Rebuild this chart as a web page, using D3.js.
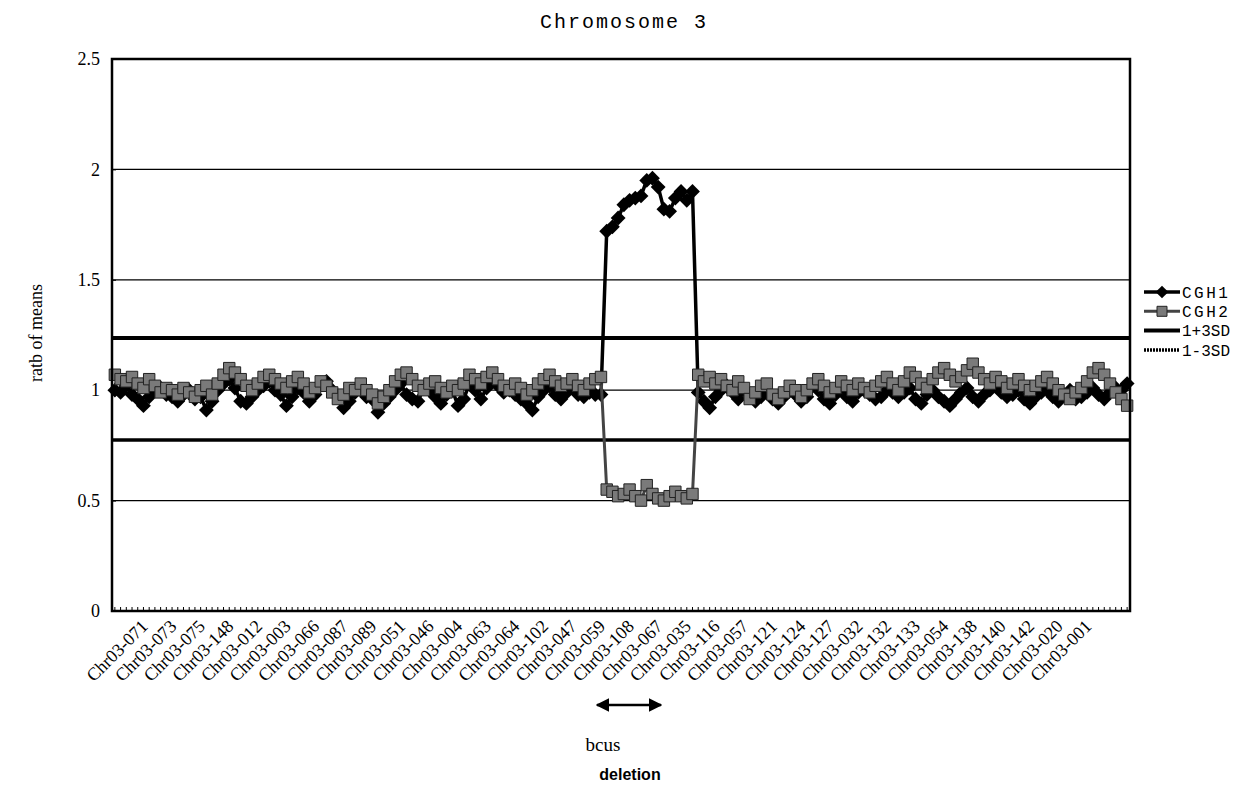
<!DOCTYPE html>
<html>
<head>
<meta charset="utf-8">
<script src="https://cdn.jsdelivr.net/npm/d3@7"></script>
<style>
  body { margin: 0; background: #fff; }
</style>
</head>
<body>
<div id="chart"></div>
<script>
// ratio of means per locus
const cgh1 = [
  1.00,0.99,1.02,0.98,0.96,0.93,0.97,1.00,1.01,0.98,
  0.97,0.95,0.98,1.00,0.96,0.97,0.91,0.95,1.00,1.03,
  1.05,1.01,0.95,0.94,0.97,1.00,1.02,1.04,1.00,0.98,
  0.93,0.97,1.01,0.99,0.95,0.98,1.03,1.04,1.00,0.97,
  0.92,0.95,0.99,1.01,0.97,0.96,0.90,0.94,0.97,1.00,
  1.03,0.98,0.96,0.95,1.01,1.00,0.97,0.94,0.98,1.00,
  0.93,0.96,1.03,1.00,0.96,1.01,1.04,1.02,0.99,1.00,
  0.98,0.96,0.94,0.91,0.97,1.00,1.02,0.98,0.96,0.99,
  1.01,0.98,0.97,0.99,0.98,0.98,
  1.72,1.74,1.78,1.84,1.86,1.87,1.88,1.95,1.96,1.92,1.82,1.81,1.87,1.90,1.86,1.90,
  0.99,0.95,0.92,0.97,1.00,1.02,0.99,0.96,1.00,0.98,
  0.95,0.97,0.99,0.96,0.94,0.97,1.00,0.98,0.95,0.97,
  1.02,1.00,0.96,0.94,0.98,1.01,0.97,0.95,0.99,1.00,
  0.98,0.96,0.97,1.00,0.99,0.97,0.99,1.01,0.96,0.94,
  0.98,1.00,0.97,0.95,0.93,0.96,0.99,1.01,0.97,0.95,
  0.98,1.00,1.02,0.99,0.97,0.98,1.00,0.96,0.94,0.97,
  0.99,1.00,0.97,0.95,0.98,1.00,0.96,0.97,0.99,1.01,
  0.98,0.96,0.99,1.01,1.00,1.03
];
const cgh2 = [
  1.07,1.05,1.04,1.06,1.03,1.01,1.05,1.02,0.99,1.01,
  1.00,0.98,1.01,0.99,0.97,1.00,1.02,0.98,1.03,1.07,
  1.10,1.08,1.05,1.02,1.00,1.03,1.06,1.07,1.05,1.03,
  1.01,1.04,1.06,1.03,0.99,1.01,1.04,1.02,0.99,0.96,
  0.98,1.01,1.00,1.03,1.00,0.98,0.94,0.97,1.00,1.04,
  1.07,1.08,1.05,1.02,1.00,1.03,1.04,1.01,0.99,1.02,
  1.00,1.03,1.07,1.05,1.03,1.06,1.08,1.05,1.02,1.00,
  1.03,1.01,0.98,1.00,1.03,1.05,1.07,1.04,1.02,1.03,
  1.05,1.02,1.00,1.03,1.05,1.06,
  0.55,0.54,0.52,0.53,0.55,0.52,0.50,0.57,0.53,0.51,0.50,0.52,0.54,0.52,0.51,0.53,
  1.07,1.04,1.06,1.03,1.05,1.02,1.00,1.04,1.01,0.96,
  0.99,1.02,1.03,0.98,0.96,0.99,1.02,1.00,0.97,1.00,
  1.03,1.05,1.02,0.99,1.01,1.04,1.02,1.00,1.03,1.01,
  0.99,1.02,1.04,1.06,1.03,1.00,1.04,1.08,1.06,1.03,
  1.01,1.05,1.08,1.10,1.07,1.04,1.06,1.09,1.12,1.08,
  1.05,1.03,1.06,1.04,1.01,1.03,1.05,1.02,1.00,1.02,
  1.04,1.06,1.03,1.00,0.98,0.96,0.99,1.01,1.04,1.08,
  1.10,1.07,1.03,0.99,0.96,0.93
];
const plus3SD = 1.236;
const minus3SD = 0.774;

const tickLabels = [
  "Chr03-071","Chr03-073","Chr03-075","Chr03-148","Chr03-012","Chr03-003",
  "Chr03-066","Chr03-087","Chr03-089","Chr03-051","Chr03-046","Chr03-004",
  "Chr03-063","Chr03-064","Chr03-102","Chr03-047","Chr03-059","Chr03-108",
  "Chr03-067","Chr03-035","Chr03-116","Chr03-057","Chr03-121","Chr03-124",
  "Chr03-127","Chr03-032","Chr03-132","Chr03-133","Chr03-054","Chr03-138",
  "Chr03-140","Chr03-142","Chr03-020","Chr03-001"
];
const yTicks = [0, 0.5, 1, 1.5, 2, 2.5];
const labelFirst = 5, labelStep = 5;

const W = 1238, H = 804;
const m = { left: 112, right: 1130, top: 59, bottom: 611 };

const svg = d3.select("#chart").append("svg")
    .attr("width", W)
    .attr("height", H);

const idx = d3.range(cgh1.length);
const x = d3.scaleBand()
    .domain(idx)
    .range([m.left, m.right]);
const cx = i => x(i) + x.bandwidth() / 2;

const y = d3.scaleLinear()
    .domain([0, 2.5])
    .range([m.bottom, m.top]);

// gridlines
svg.append("g")
    .selectAll("line")
    .data(yTicks.filter(d => d > 0 && d < 2.5))
    .join("line")
    .attr("x1", m.left).attr("x2", m.right)
    .attr("y1", d => y(d)).attr("y2", d => y(d))
    .attr("stroke", "#000")
    .attr("stroke-width", 1.3);

// y axis
const yAxis = svg.append("g")
    .attr("transform", `translate(${m.left},0)`)
    .call(d3.axisLeft(y).tickValues(yTicks).tickFormat(d3.format("")).tickSize(-4).tickPadding(12));
yAxis.select(".domain").remove();
yAxis.selectAll("line").attr("stroke", "#000");
yAxis.selectAll("text")
    .style("font-family", "'Liberation Serif', serif")
    .style("font-size", "18px")
    .attr("fill", "#000");

// x axis with a small tick per locus
const xAxis = svg.append("g")
    .attr("transform", `translate(0,${m.bottom})`)
    .call(d3.axisBottom(x).tickValues(idx).tickSize(-4).tickFormat(""));
xAxis.select(".domain").remove();
xAxis.selectAll("line").attr("stroke", "#000").attr("stroke-width", 1);

svg.append("g")
    .selectAll("text")
    .data(tickLabels)
    .join("text")
    .attr("transform", (d, j) => `translate(${cx(labelFirst + j * labelStep) + 1},${m.bottom + 12}) rotate(-45)`)
    .attr("text-anchor", "end")
    .attr("dy", "0.35em")
    .style("font-family", "'Liberation Serif', serif")
    .style("font-size", "18px")
    .text(d => d);

// threshold lines
svg.append("line")
    .attr("x1", m.left).attr("x2", m.right)
    .attr("y1", y(plus3SD)).attr("y2", y(plus3SD))
    .attr("stroke", "#000").attr("stroke-width", 4);
svg.append("line")
    .attr("x1", m.left).attr("x2", m.right)
    .attr("y1", y(minus3SD)).attr("y2", y(minus3SD))
    .attr("stroke", "#000").attr("stroke-width", 3.5);

const line = d3.line()
    .x((d, i) => cx(i))
    .y(d => y(d));

// CGH1
svg.append("path")
    .datum(cgh1)
    .attr("d", line)
    .attr("fill", "none")
    .attr("stroke", "#000")
    .attr("stroke-width", 3.5);
svg.append("g")
    .selectAll("path")
    .data(cgh1)
    .join("path")
    .attr("d", d3.symbol(d3.symbolSquare, 110))
    .attr("transform", (d, i) => `translate(${cx(i)},${y(d)}) rotate(45)`)
    .attr("fill", "#000");

// CGH2
svg.append("path")
    .datum(cgh2)
    .attr("d", line)
    .attr("fill", "none")
    .attr("stroke", "#444")
    .attr("stroke-width", 3);
svg.append("g")
    .selectAll("path")
    .data(cgh2)
    .join("path")
    .attr("d", d3.symbol(d3.symbolSquare, 130))
    .attr("transform", (d, i) => `translate(${cx(i)},${y(d)})`)
    .attr("fill", "#7a7a7a")
    .attr("stroke", "#222")
    .attr("stroke-width", 1);

// plot frame
svg.append("rect")
    .attr("x", m.left).attr("y", m.top)
    .attr("width", m.right - m.left).attr("height", m.bottom - m.top)
    .attr("fill", "none")
    .attr("stroke", "#000")
    .attr("stroke-width", 2.5);

// title and axis titles
svg.append("text")
    .attr("x", 624).attr("y", 28)
    .attr("text-anchor", "middle")
    .style("font-family", "'Liberation Mono', monospace")
    .style("font-size", "20px")
    .style("letter-spacing", "2px")
    .text("Chromosome 3");

svg.append("text")
    .attr("transform", `translate(42,${(m.top + m.bottom) / 2 - 2}) rotate(-90)`)
    .attr("text-anchor", "middle")
    .style("font-family", "'Liberation Serif', serif")
    .style("font-size", "18px")
    .text("ratb of means");

svg.append("text")
    .attr("x", 603).attr("y", 751)
    .attr("text-anchor", "middle")
    .style("font-family", "'Liberation Serif', serif")
    .style("font-size", "19px")
    .text("bcus");

// legend
const legend = [
  { name: "CGH1", spaced: true },
  { name: "CGH2", spaced: true },
  { name: "1+3SD", spaced: false },
  { name: "1-3SD", spaced: false }
];
const lg = svg.append("g").attr("transform", "translate(1144,292)");
legend.forEach((d, k) => {
  const g = lg.append("g").attr("transform", `translate(0,${k * 19.3})`);
  if (k === 0) {
    g.append("line").attr("x1", 0).attr("x2", 36).attr("stroke", "#000").attr("stroke-width", 3.5);
    g.append("path").attr("d", d3.symbol(d3.symbolSquare, 80)).attr("transform", "translate(18,0) rotate(45)").attr("fill", "#000");
  } else if (k === 1) {
    g.append("line").attr("x1", 0).attr("x2", 36).attr("stroke", "#444").attr("stroke-width", 3);
    g.append("path").attr("d", d3.symbol(d3.symbolSquare, 100)).attr("transform", "translate(18,0)").attr("fill", "#7a7a7a").attr("stroke", "#222");
  } else if (k === 2) {
    g.append("line").attr("x1", 0).attr("x2", 36).attr("stroke", "#000").attr("stroke-width", 4);
  } else {
    g.append("line").attr("x1", 0).attr("x2", 36).attr("stroke", "#000").attr("stroke-width", 3.5).attr("stroke-dasharray", "2,1");
  }
  g.append("text")
    .attr("x", 38).attr("dy", "0.35em")
    .style("font-family", "'Liberation Mono', monospace")
    .style("font-size", "16px")
    .style("letter-spacing", d.spaced ? "2.5px" : "0px")
    .text(d.name);
});

// deletion marker
const defs = svg.append("defs");
defs.append("marker")
    .attr("id", "head")
    .attr("viewBox", "0 0 10 10")
    .attr("refX", 9).attr("refY", 5)
    .attr("markerWidth", 5.5).attr("markerHeight", 5.5)
    .attr("orient", "auto-start-reverse")
    .append("path")
    .attr("d", "M0,0L10,5L0,10Z")
    .attr("fill", "#000");
svg.append("line")
    .attr("x1", 597).attr("x2", 661)
    .attr("y1", 705).attr("y2", 705)
    .attr("stroke", "#000").attr("stroke-width", 2.5)
    .attr("marker-start", "url(#head)")
    .attr("marker-end", "url(#head)");
svg.append("text")
    .attr("x", 630).attr("y", 780)
    .attr("text-anchor", "middle")
    .style("font-family", "'Liberation Sans', Arial, sans-serif")
    .style("font-size", "16px")
    .style("font-weight", "bold")
    .text("deletion");
</script>
</body>
</html>
